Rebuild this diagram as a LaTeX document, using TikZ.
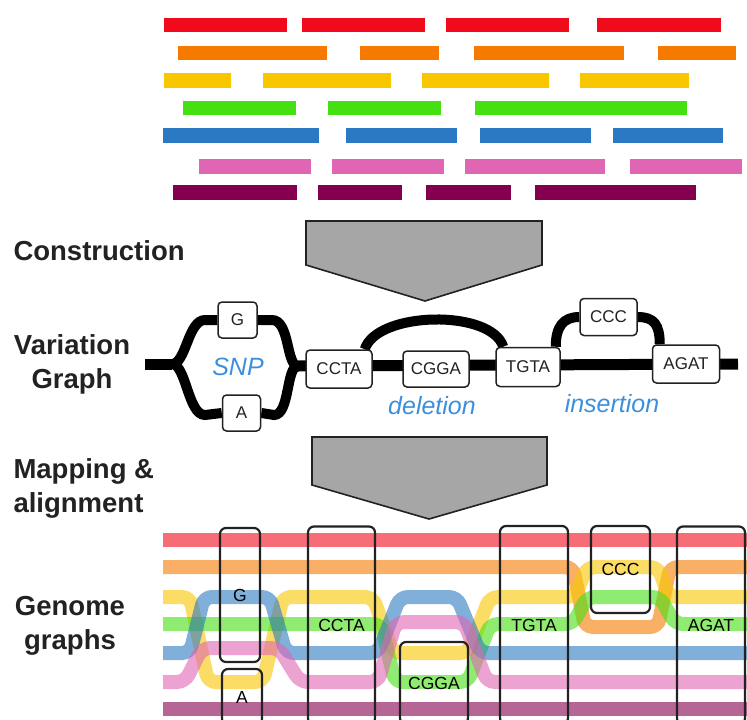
\documentclass[tikz,border=0pt]{standalone}
\usepackage{fontspec}
\setmainfont{Liberation Sans}
\usepackage{xcolor}
\usetikzlibrary{backgrounds}

\definecolor{rdred}{HTML}{F00A1C}
\definecolor{rdorange}{HTML}{F67A00}
\definecolor{rdyellow}{HTML}{F8C700}
\definecolor{rdgreen}{HTML}{45E012}
\definecolor{rdblue}{HTML}{2B79C2}
\definecolor{rdpink}{HTML}{E066B4}
\definecolor{rdplum}{HTML}{84004F}
\definecolor{varblue}{HTML}{3D8FDB}
\definecolor{ink}{HTML}{222222}

\begin{document}
\begin{tikzpicture}[x=1pt,y=-1pt,
    hap/.style={line width=14pt,draw opacity=0.6,rounded corners=8pt},
    seg/.style={draw=ink,fill=white,line width=1.5pt,rounded corners=4pt,inner sep=0pt,font=\fontsize{17}{17}\selectfont,text=ink},
    gbox/.style={draw=ink,line width=2.2pt,rounded corners=6pt,inner sep=0pt,font=\fontsize{17.5}{17.5}\selectfont,text=black},
    stage/.style={font=\bfseries\fontsize{27.5}{34}\selectfont,text=ink,align=center},
    varlbl/.style={font=\itshape\fontsize{25}{25}\selectfont,text=varblue},
    vline/.style={line width=10pt,black},
    funnel/.style={fill=gray!70,draw=ink,line width=1.6pt,line join=miter}
  ]
    \useasboundingbox (0,0) rectangle (747,720);
    \clip (0,0) rectangle (747,720);

    % sequencing reads
    \foreach \xa/\xb in {164/287,302/425,446/569,597/721}{\fill[rdred] (\xa,18) rectangle (\xb,32);}
    \foreach \xa/\xb in {178/327,360/439,474/624,658/736}{\fill[rdorange] (\xa,46) rectangle (\xb,60);}
    \foreach \xa/\xb in {164/231,263/391,422/549,580/689}{\fill[rdyellow] (\xa,73) rectangle (\xb,88);}
    \foreach \xa/\xb in {183/296,328/441,475/687}{\fill[rdgreen] (\xa,101) rectangle (\xb,115);}
    \foreach \xa/\xb in {163/319,346/457,480/591,613/723}{\fill[rdblue] (\xa,128) rectangle (\xb,143);}
    \foreach \xa/\xb in {199/311,332/444,465/605,630/742}{\fill[rdpink] (\xa,159) rectangle (\xb,174);}
    \foreach \xa/\xb in {173/297,318/402,426/511,535/696}{\fill[rdplum] (\xa,185) rectangle (\xb,200);}

    % stage labels
    \node[stage,anchor=west] (construct) at (10,251) {Construction};
    \node[stage] (vgraph) at (72,364) {Variation\\Graph};
    \node[stage,align=left,anchor=west] (mapping) at (10,488) {Mapping \&\\alignment};
    \node[stage] (genome) at (70,626) {Genome\\graphs};

    % arrows between stages
    \draw[funnel] (306,221) -- (542,221) -- (542,265) -- (425,301) -- (306,265) -- cycle;
    \draw[funnel] (312,437) -- (547,437) -- (547,485) -- (429,519) -- (312,485) -- cycle;

    % variation graph
    \coordinate (vstart) at (145,364);
    \coordinate (vend) at (738,364);
    \coordinate (snpL) at (172,364);
    \coordinate (snpR) at (298,366);
    \node[seg,minimum width=39pt,minimum height=36pt] (g) at (237.5,320) {G};
    \node[seg,minimum width=38pt,minimum height=36pt] (a) at (241.5,413) {A};
    \node[seg,minimum width=66pt,minimum height=38pt] (ccta) at (339,369) {CCTA};
    \node[seg,minimum width=66pt,minimum height=36pt] (cgga) at (436,369) {CGGA};
    \node[seg,minimum width=64pt,minimum height=39pt] (tgta) at (528,367) {TGTA};
    \node[seg,minimum width=57pt,minimum height=37pt] (ccc) at (608.5,317) {CCC};
    \node[seg,minimum width=67pt,minimum height=38pt] (agat) at (686,364) {AGAT};
    \begin{pgfonlayer}{background}
      \draw[vline,line width=11pt] (vstart) -- (snpL);
      \draw[vline,line width=11pt] (snpR) -- (vend);
      \draw[vline] (snpL) .. controls (186,364) and (188,320) .. (205,320) -- (g.west);
      \draw[vline] (g.east) -- (272,320) .. controls (290,320) and (286,366) .. (snpR);
      \draw[vline] (snpL) .. controls (186,364) and (188,415) .. (205,415) -- (a.west);
      \draw[vline] (a.east) -- (274,415) .. controls (290,415) and (286,366) .. (snpR);
      \draw[vline] ([xshift=-8pt]ccta.north east) .. controls +(12,-38) and +(-12,-38) .. ([xshift=8pt]tgta.north west);
      \draw[vline] ([xshift=-5pt]tgta.north east) .. controls +(0,-20) and +(-16,0) .. (ccc.west);
      \draw[vline] (ccc.east) .. controls +(16,0) and +(0,-20) .. ([xshift=8pt]agat.north west);
    \end{pgfonlayer}
    \node[varlbl] (snp) at (238,367) {SNP};
    \node[varlbl] (del) at (432,406) {deletion};
    \node[varlbl] (ins) at (612,404) {insertion};

    % haplotype paths through the genome graph
    \draw[hap,rdred] (163,540) -- (747,540);
    \draw[hap,rdorange] (163,567) -- (573,567) -- (585,627) -- (658,627) -- (670,567) -- (747,567);
    \draw[hap,rdyellow] (163,597) -- (190,597) -- (208,682) -- (263,682) -- (283,597) -- (373,597) -- (393,653) -- (468,653) -- (490,597) -- (575,597) -- (587,567) -- (658,567) -- (669,597) -- (747,597);
    \draw[hap,rdgreen] (163,624) -- (381,624) -- (395,682) -- (468,682) -- (490,624) -- (573,624) -- (587,597) -- (660,597) -- (675,624) -- (747,624);
    \draw[hap,rdblue] (163,653) -- (190,653) -- (204,597) -- (270,597) -- (286,653) -- (378,653) -- (400,597) -- (457,597) -- (480,653) -- (747,653);
    \draw[hap,rdpink] (163,682) -- (185,682) -- (202,648) -- (279,648) -- (300,682) -- (378,682) -- (396,622) -- (464,622) -- (487,682) -- (747,682);
    \draw[hap,rdplum] (163,709) -- (747,709);

    % graph nodes over the paths
    \node[gbox,minimum width=40pt,minimum height=134pt] (hg) at (240,595) {G};
    \node[gbox,minimum width=40pt,minimum height=56pt] (ha) at (242,697) {A};
    \node[gbox,minimum width=67pt,minimum height=198pt] (hccta) at (341.5,625.5) {CCTA};
    \node[gbox,minimum width=68pt,minimum height=82pt] (hcgga) at (434,683) {CGGA};
    \node[gbox,minimum width=68pt,minimum height=198pt] (htgta) at (534,625) {TGTA};
    \node[gbox,minimum width=59pt,minimum height=87pt] (hccc) at (620.5,569.5) {CCC};
    \node[gbox,minimum width=68pt,minimum height=198pt] (hagat) at (711,625.5) {AGAT};
  \end{tikzpicture}
\end{document}
